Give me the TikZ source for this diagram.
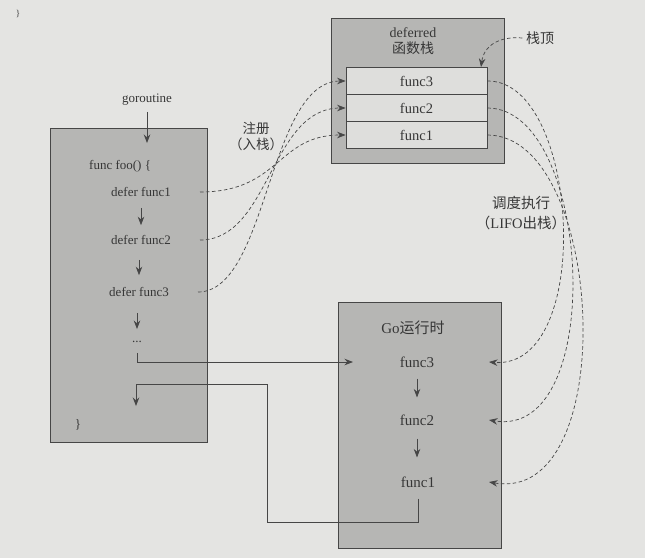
\documentclass[tikz,border=0pt]{standalone}
\usepackage{fontspec}
\setmainfont{Liberation Serif}
\newfontfamily\cjk{Noto Sans CJK SC}
\usetikzlibrary{arrows.meta}
\definecolor{bgc}{RGB}{228,228,226}
\definecolor{boxc}{RGB}{182,182,180}
\definecolor{rowc}{RGB}{222,222,220}
\definecolor{linec}{RGB}{70,70,70}
\definecolor{txtc}{RGB}{55,55,55}
\begin{document}
\begin{tikzpicture}[x=1pt,y=-1pt,
  every node/.style={text=txtc},
  box/.style={draw=linec, line width=0.8pt, fill=boxc},
  row/.style={draw=linec, line width=0.8pt, fill=rowc, minimum width=141pt, minimum height=27pt, inner sep=0pt, font=\fontsize{14.5}{16}\selectfont},
  ltxt/.style={font=\fontsize{13}{15}\selectfont, inner sep=1pt},
  rtxt/.style={font=\fontsize{15}{17}\selectfont, inner sep=1pt},
  arr/.style={draw=linec, line width=0.8pt, -{Stealth[length=8.5pt,width=6.5pt]}},
  darr/.style={draw=linec, line width=0.7pt, dash pattern=on 3.5pt off 2.5pt, -{Stealth[length=8.5pt,width=6.5pt]}}]

\fill[bgc] (0,0) rectangle (645,558);
\useasboundingbox (0,0) rectangle (645,558);

% boxes
\node[box, minimum width=157pt, minimum height=314pt] (foo) at (128.5,285) {};
\node[box, minimum width=173pt, minimum height=145pt] (dbox) at (417.5,90.5) {};
\node[box, minimum width=163pt, minimum height=246pt] (gobox) at (419.5,425) {};

% deferred stack
\node[font=\fontsize{14}{16.5}\selectfont, align=center, inner sep=0pt] (dtitle) at (413,41) {deferred\\{\cjk 函数栈}};
\node[row] (s3) at (416.5,81) {func3};
\node[row] (s2) at (416.5,108) {func2};
\node[row] (s1) at (416.5,135) {func1};

\node[font=\cjk\fontsize{14}{16}\selectfont] (ding) at (540,38) {栈顶};
\coordinate (top) at (481,67);
\draw[darr] (ding.west) .. controls (500,36) and (484,45) .. (top);

% small brace top-left
\node[font=\fontsize{9}{10}\selectfont] (lbrace) at (18,14) {\}};

% foo body
\node[ltxt] (gr) at (147,100) {goroutine};
\coordinate (grin) at (147,143);
\draw[arr, shorten <=5pt] (gr.south) -- (grin);
\node[ltxt, anchor=west] (foo1) at (88,166) {func foo() \{};
\node[ltxt] (d1) at (141,192) {defer func1};
\node[ltxt] (d2) at (141,240) {defer func2};
\node[ltxt] (d3) at (139,292) {defer func3};
\node[ltxt] (dots) at (137,342) {...};
\node[ltxt] (rbrace) at (78,425) {\}};
\draw[arr, shorten <=10pt, shorten >=9pt] (d1.south) -- (d2.north);
\draw[arr, shorten <=14pt, shorten >=11pt] (d2.south -| d3.south) -- (d3.north);
\draw[arr, shorten <=15pt, shorten >=11pt] (d3.south -| dots.north) -- (dots.north);

% registration curves
\coordinate (o1) at (200,192);
\coordinate (o2) at (200,240);
\coordinate (o3) at (198,292);
\draw[darr] (o1) .. controls (280,192) and (277,135) .. (s1.west);
\draw[darr] (o2) .. controls (270,240) and (270,108) .. (s2.west);
\draw[darr] (o3) .. controls (268,292) and (268,81) .. (s3.west);
\node[font=\cjk\fontsize{13.5}{16}\selectfont, align=center] (reg) at (256,136) {注册\\（入栈）};

% Go runtime
\node[rtxt] (gt) at (413,328) {Go{\cjk 运行时}};
\node[rtxt] (g3) at (417,362) {func3};
\node[rtxt] (g2) at (417,420) {func2};
\node[rtxt] (g1) at (418,482) {func1};
\draw[arr, shorten <=10pt, shorten >=16pt] (g3.south) -- (g2.north);
\draw[arr, shorten <=12pt, shorten >=18pt] (g2.south) -- (g1.north -| g2.south);

% call into runtime and return
\coordinate (in3) at (353,362);
\draw[arr, shorten <=9pt] (dots.south) |- (in3);
\coordinate (ret) at (136,406);
\draw[arr, shorten <=10pt] (g1.south) |- (267,522) |- (136,384) -- (ret);

% LIFO curves
\coordinate (t3) at (489,362);
\coordinate (t2) at (489,420);
\coordinate (t1) at (489,482);
\draw[darr] (s3.east) .. controls (580,80) and (595,370) .. (t3);
\draw[darr] (s2.east) .. controls (592,108) and (608,440) .. (t2);
\draw[darr] (s1.east) .. controls (605,135) and (622,505) .. (t1);
\node[font=\fontsize{14.5}{20}\selectfont, align=center] (sched) at (521,213) {{\cjk 调度执行}\\{\cjk （}LIFO{\cjk 出栈）}};
\end{tikzpicture}
\end{document}
